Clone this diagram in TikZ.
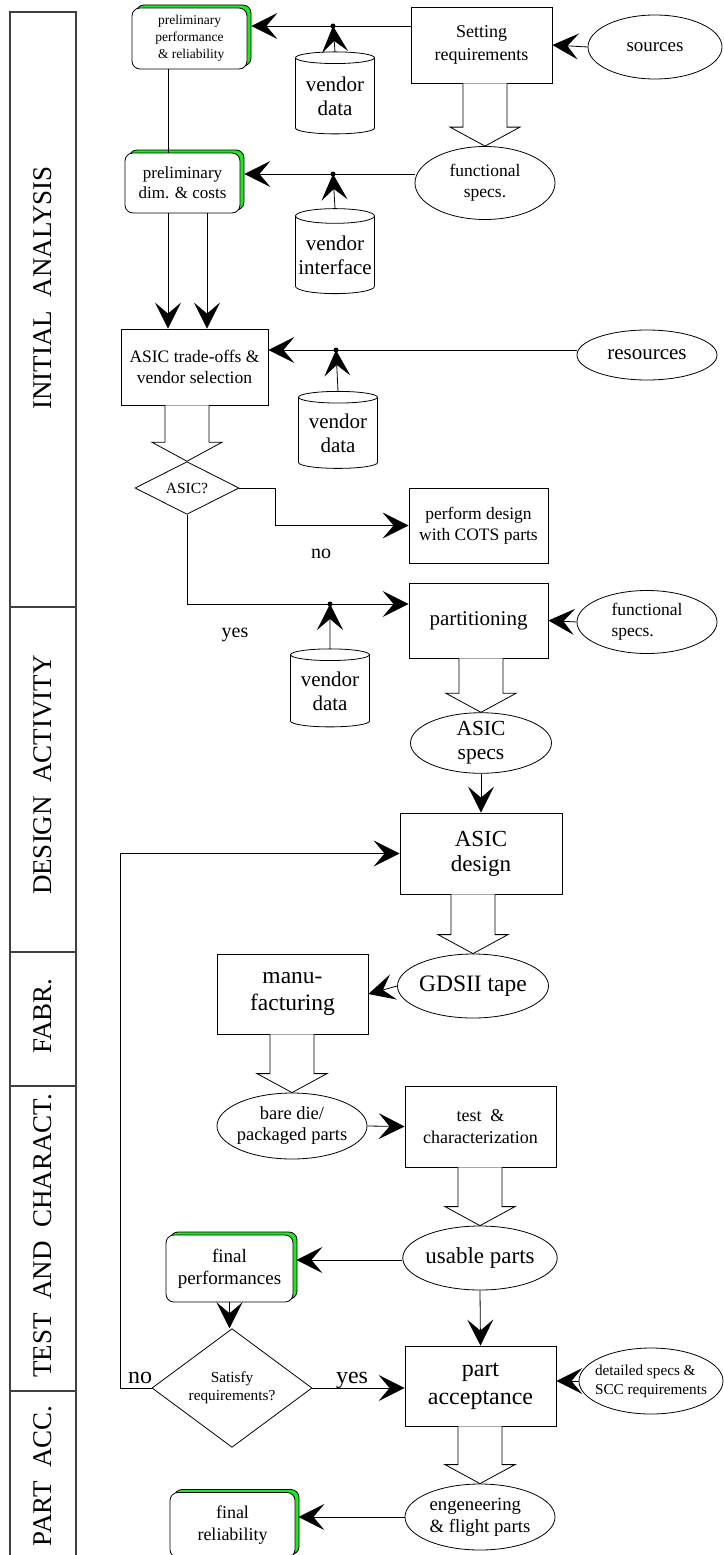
\documentclass[tikz,border=0pt]{standalone}
\usepackage{fontspec}
\setmainfont{Liberation Serif}
\usetikzlibrary{positioning,arrows.meta,shapes.geometric,shadows,calc}
\definecolor{vgreen}{RGB}{35,230,35}
\newcommand{\fs}[2]{\fontsize{#1}{#2}\selectfont}
\newcommand{\fatarrow}[2]{%
  \draw[fat] ($(#1.south -| #2.north)+(-22,0)$) -- ($(#2.north)+(-22,-19)$) -- ($(#2.north)+(-35,-19)$)
    -- (#2.north) -- ($(#2.north)+(35,-19)$) -- ($(#2.north)+(22,-19)$) -- ($(#1.south -| #2.north)+(22,0)$);}

\begin{document}
\begin{tikzpicture}[x=1pt,y=-1pt,
    box/.style={draw,fill=white,line width=0.8pt,align=center,inner sep=2pt},
    result/.style={box,rounded corners=8pt,copy shadow={shadow xshift=4pt,shadow yshift=3pt,fill=vgreen,draw=black,line width=0.8pt}},
    oval/.style={ellipse,draw,fill=white,line width=0.8pt,align=center,inner sep=0pt},
    drum/.style={cylinder,shape border rotate=90,aspect=0.2,draw,fill=white,line width=0.8pt,align=center,inner sep=0pt,font=\fs{21}{24}},
    ask/.style={diamond,draw,fill=white,line width=0.8pt,align=center,inner sep=0pt},
    lane/.style={draw=black!75,line width=1.3pt},
    lanetext/.style={rotate=90,font=\fs{27}{30}},
    arr/.style={-{Stealth[length=26pt,width=26pt,inset=11pt]},line width=0.8pt},
    fat/.style={draw,fill=white,line width=0.8pt,line join=miter}]
  \useasboundingbox (0,0) rectangle (723,1555);

  \draw[lane] (10,1560) -- (10,12) -- (76,12) -- (76,1560);
  \foreach \yy in {607,952,1086,1391} \draw[lane] (10,\yy) -- (76,\yy);
  \node[lanetext] (lane1) at (43,288) {INITIAL\ \ ANALYSIS};
  \node[lanetext] (lane2) at (43,775) {DESIGN\ \ ACTIVITY};
  \node[lanetext] (lane3) at (43,1016) {FABR.};
  \node[lanetext] (lane4) at (43,1236) {TEST\ \ AND\ \ CHARACT.};
  \node[lanetext] (lane5) at (43,1476) {PART\ \ ACC.};

  \node[result,minimum width=115pt,minimum height=61pt,font=\fs{13.5}{17}] (perfrel) at (189.5,38.5) {preliminary\\performance\\\ \& reliability};
  \node[box,minimum width=141pt,minimum height=76pt,font=\fs{18}{23}] (setreq) at (481.5,45) {Setting\\requirements};
  \node[oval,minimum width=134pt,minimum height=64pt,font=\fs{19}{22}] (sources) at (655,47) {sources};
  \node[drum,minimum width=79pt,minimum height=82pt] (vd1) at (335,96) {vendor\\data};
  \coordinate (j1) at (333,26);
  \node[oval,minimum width=140pt,minimum height=73pt,font=\fs{17.5}{21}] (func1) at (485,183) {functional\\specs.};
  \node[result,minimum width=115pt,minimum height=60pt,font=\fs{17}{20}] (prelimdim) at (182.5,183) {preliminary\\dim. \& costs};
  \node[drum,minimum width=79pt,minimum height=85pt] (vi) at (335,255) {vendor\\interface};
  \coordinate (j2) at (333,174);

  \node[box,minimum width=147pt,minimum height=76pt,font=\fs{17.5}{21}] (tradeoff) at (194.5,367) {ASIC trade-offs \&\\vendor selection};
  \node[oval,minimum width=140pt,minimum height=50pt,font=\fs{21}{24}] (resources) at (647,355) {resources};
  \node[drum,minimum width=79pt,minimum height=77pt] (vd2) at (338,433) {vendor\\data};
  \coordinate (j3) at (336,350);
  \node[ask,minimum width=104pt,minimum height=50pt,font=\fs{15.5}{18}] (asicq) at (187,488) {ASIC?};
  \node[box,minimum width=139pt,minimum height=75pt,font=\fs{17.5}{21}] (cots) at (478.5,525.5) {perform design\\with COTS parts};

  \node[box,minimum width=139pt,minimum height=75pt,font=\fs{21}{24}] (partition) at (478.5,620.5) {partitioning};
  \node[oval,minimum width=140pt,minimum height=63pt,font=\fs{17.5}{21},align=left] (func2) at (647,622) {functional\\specs.};
  \node[drum,minimum width=79pt,minimum height=78pt] (vd3) at (330,691) {vendor\\data};
  \coordinate (j4) at (330,604);
  \node[oval,minimum width=141pt,minimum height=59pt,font=\fs{21.5}{24}] (asicspec) at (481,743) {ASIC\\specs};
  \node[box,minimum width=162pt,minimum height=81pt,font=\fs{23}{25}] (asicdesign) at (481,853.5) {ASIC\\design};

  \node[oval,minimum width=151pt,minimum height=64pt,inner xsep=-4pt,font=\fs{23.5}{26}] (gdsii) at (473,986) {GDSII tape};
  \node[box,minimum width=151pt,minimum height=80pt,font=\fs{23.5}{27}] (manuf) at (292.5,994) {manu-\\facturing};
  \node[oval,minimum width=150pt,minimum height=66pt,inner xsep=-4pt,font=\fs{18.5}{21}] (baredie) at (292,1126) {bare die/\\packaged parts};
  \node[box,minimum width=151pt,minimum height=81pt,font=\fs{18}{22}] (testchar) at (480.5,1126.5) {test\ \ \&\\characterization};
  \node[oval,minimum width=150pt,minimum height=64pt,font=\fs{23}{26}] (usable) at (480,1258) {usable parts};
  \node[result,minimum width=127pt,minimum height=67pt,font=\fs{19}{22}] (finalperf) at (229.5,1268.5) {final\\performances};
  \node[ask,minimum width=160pt,minimum height=82pt,font=\fs{15.3}{18}] (satisfy) at (232,1388) {Satisfy\\requirements?};
  \node[box,minimum width=151pt,minimum height=80pt,font=\fs{24}{28}] (partacc) at (480.5,1386) {part\\acceptance};
  \node[oval,minimum width=144pt,minimum height=66pt,inner xsep=-10pt,font=\fs{15.2}{19},align=left] (detailed) at (651,1381) {detailed specs \&\\SCC requirements};
  \node[oval,minimum width=150pt,minimum height=66pt,font=\fs{18.7}{22},align=left] (engflight) at (480,1517) {engeneering\\\& flight parts};
  \node[result,minimum width=125pt,minimum height=65pt,font=\fs{18}{22}] (finalrel) at (232.5,1525) {final\\reliability};

  \node[anchor=base,font=\fs{20}{22}] (no1) at (321,558) {no};
  \node[anchor=base,font=\fs{20}{22}] (yes1) at (235,637) {yes};
  \node[anchor=base,font=\fs{24}{26}] (no2) at (140,1383) {no};
  \node[anchor=base,font=\fs{24}{26}] (yes2) at (352,1383) {yes};

  \draw[arr] (sources.west) -- (setreq.east);
  \draw[arr] (setreq.west |- j1) -- ($(perfrel.east |- j1)+(4,0)$);
  \draw[arr] (vd1.north) -- (j1);
  \draw[arr] (func1.west |- j2) -- ($(prelimdim.east |- j2)+(4,0)$);
  \draw[arr] (vi.north) -- (j2);
  \draw ($(perfrel.south)+(-21.5,0)$) coordinate (k1) -- (k1 |- prelimdim.north);
  \draw[arr] ($(prelimdim.south)+(-14.5,0)$) coordinate (k2) -- (k2 |- tradeoff.north);
  \draw[arr] ($(prelimdim.south)+(24.5,0)$) coordinate (k3) -- (k3 |- tradeoff.north);
  \draw[arr] (resources.west |- j3) -- (tradeoff.east |- j3);
  \draw[arr] (vd2.north) -- (j3);
  \draw[arr] (asicq.east) -- ++(36,0) |- (cots.west);
  \draw[arr] (asicq.south) |- (partition.west |- j4);
  \draw[arr] (vd3.north) -- (j4);
  \draw[arr] (func2.west) -- (partition.east);
  \draw[arr] (asicspec.south) -- (asicdesign.north);
  \draw[arr] (satisfy.west) -- ++(-31,0) |- (asicdesign.west);
  \draw[arr] (gdsii.west) -- (manuf.east);
  \draw[arr] (baredie.east) -- (testchar.west);
  \draw[arr] (usable.west |- 0,1260) -- ($(finalperf.east |- 0,1260)+(3,0)$);
  \draw[arr] (finalperf.south) -- (finalperf.south |- satisfy.north);
  \draw[arr] (satisfy.east) -- (partacc.west |- satisfy.east);
  \draw[arr] (usable.south) -- (partacc.north);
  \draw[arr] (detailed.west) -- (partacc.east |- detailed.west);
  \draw[arr] (engflight.west) -- ($(finalrel.east |- engflight.west)+(3,0)$);
  \foreach \jj in {j1,j2,j3,j4} \fill (\jj) circle (2.5pt);

  \fatarrow{setreq}{func1}
  \fatarrow{tradeoff}{asicq}
  \fatarrow{partition}{asicspec}
  \fatarrow{asicdesign}{gdsii}
  \fatarrow{manuf}{baredie}
  \fatarrow{testchar}{usable}
  \fatarrow{partacc}{engflight}
\end{tikzpicture}
\end{document}
